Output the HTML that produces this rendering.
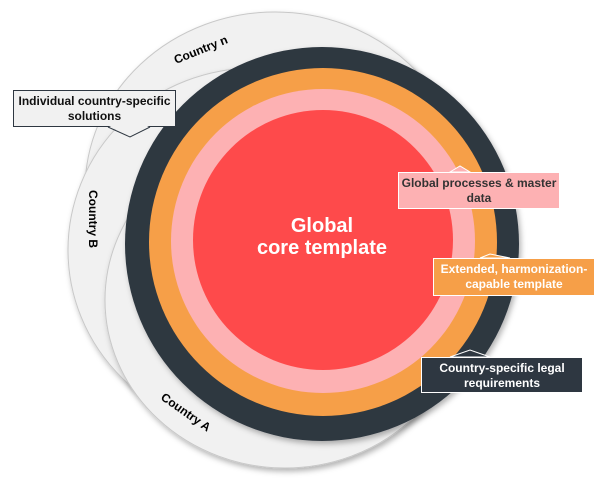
<!DOCTYPE html>
<html><head><style>
body{margin:0;width:610px;height:481px;background:#fff;overflow:hidden;font-family:"Liberation Sans",sans-serif}
.box{position:absolute;font-size:12px;font-weight:bold;text-align:center;line-height:15px;box-sizing:border-box;padding-top:3px}
</style></head><body>
<svg width="610" height="481" style="position:absolute;left:0;top:0">
<defs><filter id="sh" x="-20%" y="-20%" width="140%" height="140%"><feDropShadow dx="2" dy="3" stdDeviation="3" flood-opacity="0.3"/></filter></defs>
<ellipse cx="275" cy="190" rx="190" ry="178" fill="#f1f1f1" stroke="#c8c8c8" filter="url(#sh)"/>
<ellipse cx="255" cy="250" rx="187" ry="182" fill="#f1f1f1" stroke="#c8c8c8" filter="url(#sh)"/>
<ellipse cx="285" cy="300" rx="180" ry="168" fill="#f1f1f1" stroke="#c8c8c8" filter="url(#sh)"/>
<circle cx="322" cy="244" r="197" fill="#2e3741" filter="url(#sh)"/>
<circle cx="323" cy="242" r="174" fill="#f69f48"/>
<circle cx="323" cy="241" r="152" fill="#fdb1b3"/>
<circle cx="323" cy="240" r="130" fill="#fe4a4b"/>
<text x="0" y="0" font-size="12" font-weight="bold" font-family="Liberation Sans" transform="translate(176,64) rotate(-22)">Country n</text>
<text x="0" y="0" font-size="12" font-weight="bold" font-family="Liberation Sans" transform="translate(89,190) rotate(90)">Country B</text>
<text x="0" y="0" font-size="12" font-weight="bold" font-family="Liberation Sans" transform="translate(160,399) rotate(35)">Country A</text>
<text x="322" y="232" font-size="20" font-weight="bold" fill="#fff" text-anchor="middle" font-family="Liberation Sans">Global</text>
<text x="322" y="254" font-size="20" font-weight="bold" fill="#fff" text-anchor="middle" font-family="Liberation Sans">core template</text>
<polygon points="450,172 460,166 470,172" fill="#fdb1b3" stroke="#fff"/>
<polygon points="480,258 490,254 510,258" fill="#f69f48" stroke="#fff"/>
<polygon points="450,357 470,350 490,357" fill="#2e3741" stroke="#fff"/>
</svg>
<div class="box" style="left:13px;top:90px;width:163px;height:37px;background:#f1f1f1;border:1px solid #2e3741;color:#111">Individual country-specific<br>solutions</div>
<div class="box" style="left:398px;top:172px;width:162px;height:37px;background:#fdb1b3;border:1px solid #fff;color:#333">Global processes &amp; master<br>data</div>
<div class="box" style="left:433px;top:258px;width:162px;height:38px;background:#f69f48;border:1px solid #fff;color:#fff">Extended, harmonization-<br>capable template</div>
<div class="box" style="left:421px;top:357px;width:162px;height:36px;background:#2e3741;border:1px solid #fff;color:#fff">Country-specific legal<br>requirements</div>
<svg width="610" height="481" style="position:absolute;left:0;top:0;pointer-events:none">
<polygon points="109,126 130,136 149,126" fill="#f1f1f1"/>
<polyline points="108,127 130,137 150,127" fill="none" stroke="#2e3741"/>
</svg>
</body></html>
